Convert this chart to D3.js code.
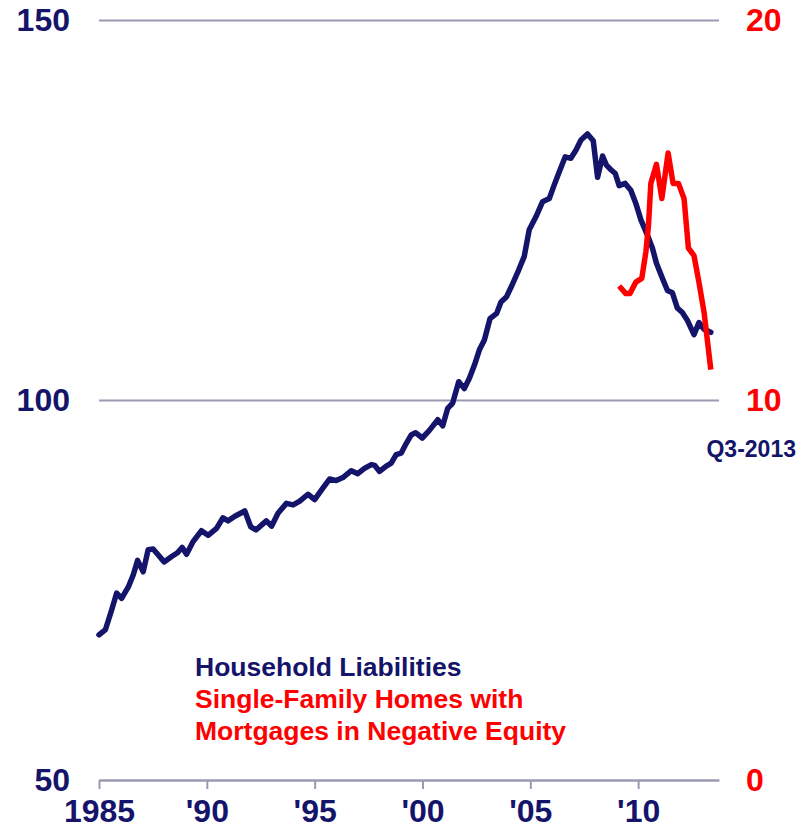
<!DOCTYPE html>
<html>
<head>
<meta charset="utf-8">
<script src="https://cdn.jsdelivr.net/npm/d3@7"></script>
<style>
  html, body { margin: 0; padding: 0; background: #ffffff; }
  svg { display: block; font-family: "Liberation Sans", Arial, sans-serif; font-weight: bold; }
</style>
</head>
<body>
<div id="chart"></div>
<script>
// Household liabilities (left axis) — [decimal year, value]
const liabilitiesDates = [
  1985.00,1985.30,1985.59,1985.82,1986.05,1986.36,1986.59,1986.79,1987.05,1987.28,
  1987.51,1987.75,1988.02,1988.37,1988.64,1988.86,1989.06,1989.37,1989.75,1990.06,
  1990.45,1990.75,1990.99,1991.30,1991.76,1992.04,1992.28,1992.52,1992.76,1993.00,
  1993.30,1993.69,1994.00,1994.31,1994.69,1995.00,1995.38,1995.69,1996.00,1996.31,
  1996.70,1997.00,1997.31,1997.63,1997.78,1998.01,1998.32,1998.55,1998.78,1999.01,
  1999.25,1999.48,1999.68,1999.99,2000.32,2000.71,2000.94,2001.17,2001.40,2001.68,
  2001.94,2002.18,2002.41,2002.64,2002.87,2003.13,2003.44,2003.64,2003.90,2004.15,
  2004.46,2004.72,2004.95,2005.26,2005.57,2005.88,2006.11,2006.34,2006.62,2006.88,
  2007.12,2007.35,2007.65,2007.92,2008.12,2008.35,2008.53,2008.74,2008.94,2009.12,
  2009.40,2009.66,2009.89,2010.13,2010.43,2010.66,2010.85,2011.13,2011.36,2011.59,
  2011.82,2012.05,2012.28,2012.59,2012.82,2013.06,2013.37
];
const liabilitiesValues = [
  69.1,69.8,72.4,74.6,73.9,75.4,77.0,78.9,77.4,80.3,
  80.4,79.6,78.7,79.4,79.9,80.6,79.7,81.4,82.8,82.2,
  83.1,84.5,84.1,84.7,85.4,83.3,82.9,83.5,84.1,83.4,
  85.1,86.4,86.2,86.7,87.6,86.9,88.4,89.6,89.4,89.8,
  90.7,90.3,91.0,91.5,91.4,90.6,91.3,91.7,92.8,93.0,
  94.3,95.4,95.7,95.0,96.0,97.4,96.6,98.9,99.6,102.4,
  101.5,102.9,104.6,106.6,107.9,110.7,111.4,112.9,113.6,115.1,
  117.1,118.9,122.4,124.1,126.1,126.5,128.3,130.0,132.0,131.8,
  132.9,134.2,135.0,134.1,129.3,132.1,130.9,130.3,129.8,128.2,
  128.5,127.6,125.9,123.7,121.7,120.0,118.0,116.0,114.4,114.1,
  112.1,111.5,110.5,108.6,110.2,109.3,108.9
];

// Single-family homes with mortgages in negative equity (right axis)
const equityDates = [
  2009.12,2009.43,2009.62,2009.89,2010.17,2010.36,2010.48,2010.59,2010.85,2011.10,
  2011.39,2011.62,2011.87,2012.13,2012.33,2012.59,2012.82,2013.06,2013.37
];
const equityValues = [
  13.0,12.8,12.8,13.1,13.2,13.9,14.6,15.7,16.2,15.3,
  16.5,15.7,15.7,15.3,14.0,13.8,13.1,12.3,10.8
];

const xTickYears = [1985, 1990, 1995, 2000, 2005, 2010];
const xTickLabels = ["1985", "'90", "'95", "'00", "'05", "'10"];
const leftTicks = [50, 100, 150];
const rightTicks = [0, 10, 20];
const legendLines = [
  { text: "Household Liabilities", series: "liab" },
  { text: "Single-Family Homes with", series: "eq" },
  { text: "Mortgages in Negative Equity", series: "eq" }
];
const endLabel = "Q3-2013";

const NAVY = "#14146a";
const RED = "#ff0000";
const GRID = "#9a9ab4";

const W = 808, H = 834;
const margin = { left: 99, right: 89, top: 20, bottom: 54 };
const innerW = W - margin.left - margin.right;
const innerH = H - margin.top - margin.bottom;

const svg = d3.select("#chart").append("svg").attr("width", W).attr("height", H);
const g = svg.append("g").attr("transform", `translate(${margin.left},${margin.top})`);

const x = d3.scaleLinear().domain([1985, 2013.75]).range([0, innerW]);
const yL = d3.scaleLinear().domain([50, 150]).range([innerH, 0]);
const yR = d3.scaleLinear().domain([0, 20]).range([innerH, 0]);

// gridlines
const grid = g.append("g").call(d3.axisLeft(yL).tickValues(leftTicks).tickSize(-innerW).tickFormat(""));
grid.select(".domain").remove();
grid.selectAll("line").attr("stroke", GRID).attr("stroke-width", 2);

// left axis labels
const la = g.append("g").call(d3.axisLeft(yL).tickValues(leftTicks).tickSize(0).tickPadding(29));
la.select(".domain").remove();
la.selectAll("text").attr("fill", NAVY).attr("font-size", 32).attr("font-weight", "bold")
  .attr("font-family", "Liberation Sans, Arial, sans-serif");

// right axis labels
const ra = g.append("g").attr("transform", `translate(${innerW},0)`)
  .call(d3.axisRight(yR).tickValues(rightTicks).tickSize(0).tickPadding(27));
ra.select(".domain").remove();
ra.selectAll("text").attr("fill", RED).attr("font-size", 32).attr("font-weight", "bold")
  .attr("font-family", "Liberation Sans, Arial, sans-serif");

// bottom axis
const xa = g.append("g").attr("transform", `translate(0,${innerH})`)
  .call(d3.axisBottom(x).tickValues(xTickYears).tickFormat((d, i) => xTickLabels[i])
    .tickSize(9).tickSizeOuter(0).tickPadding(10));
xa.select(".domain").attr("stroke", GRID).attr("stroke-width", 2);
xa.selectAll(".tick line").attr("stroke", GRID).attr("stroke-width", 2);
xa.selectAll("text").attr("fill", NAVY).attr("font-size", 32).attr("font-weight", "bold")
  .attr("font-family", "Liberation Sans, Arial, sans-serif");

// lines
const liab = liabilitiesDates.map((d, i) => [d, liabilitiesValues[i]]);
const eq = equityDates.map((d, i) => [d, equityValues[i]]);

g.append("path").datum(liab)
  .attr("fill", "none").attr("stroke", NAVY).attr("stroke-width", 5.5)
  .attr("stroke-linejoin", "round").attr("stroke-linecap", "round")
  .attr("d", d3.line().x(d => x(d[0])).y(d => yL(d[1])));

g.append("path").datum(eq)
  .attr("fill", "none").attr("stroke", RED).attr("stroke-width", 5.5)
  .attr("stroke-linejoin", "round").attr("stroke-linecap", "butt")
  .attr("d", d3.line().x(d => x(d[0])).y(d => yR(d[1])));

// end label
svg.append("text").attr("x", 796).attr("y", 457).attr("text-anchor", "end")
  .attr("fill", NAVY).attr("font-size", 23).text(endLabel);

// legend
svg.append("g").selectAll("text").data(legendLines).join("text")
  .attr("x", 195).attr("y", (d, i) => 676 + i * 32)
  .attr("fill", d => d.series === "liab" ? NAVY : RED)
  .attr("font-size", 26.5).text(d => d.text);
</script>
</body>
</html>
